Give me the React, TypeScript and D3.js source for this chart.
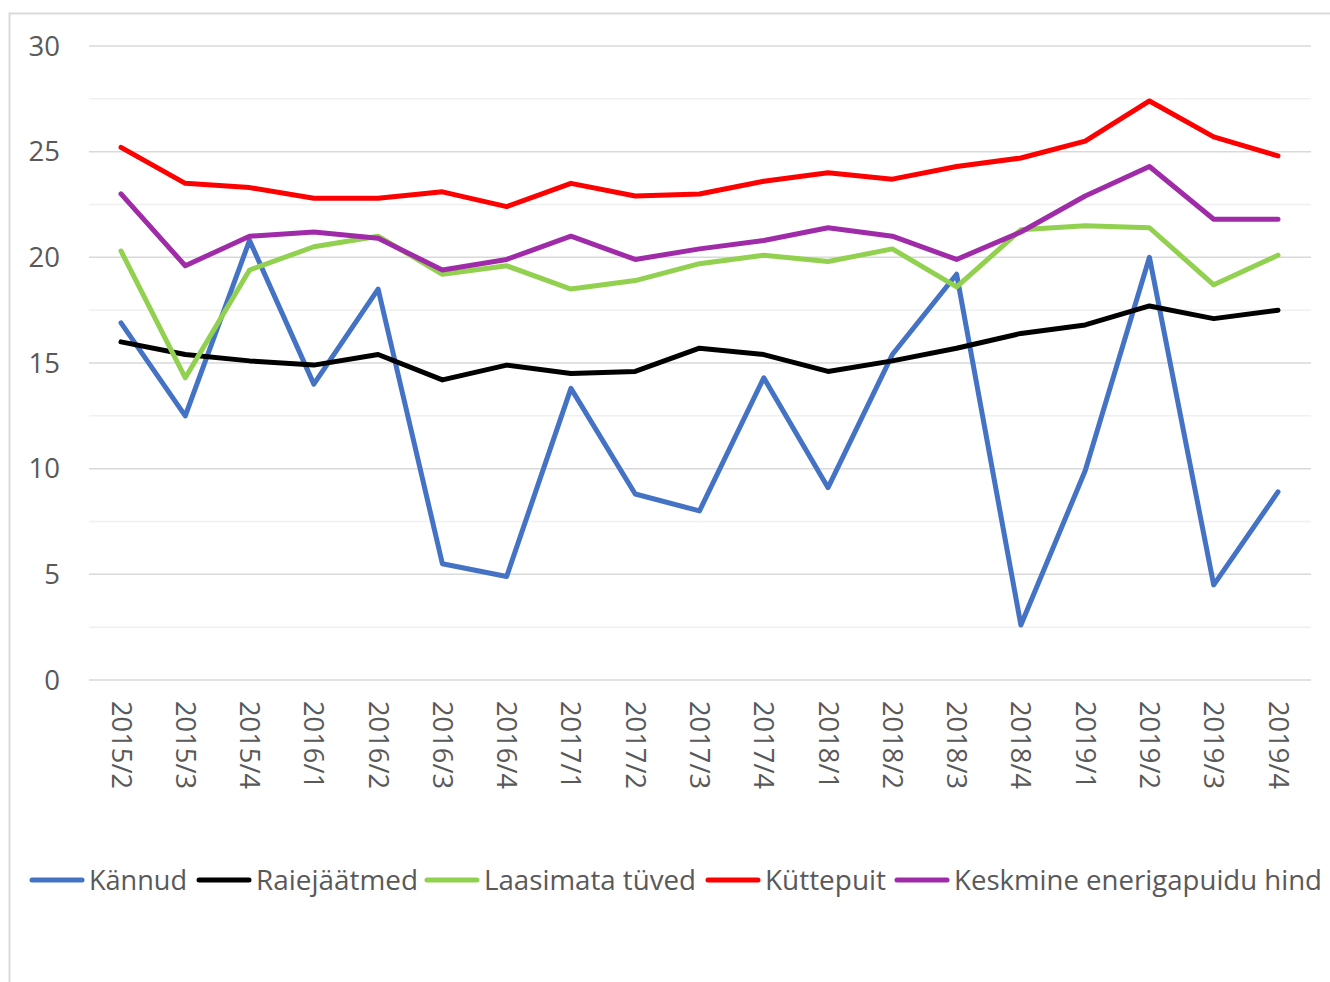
import { useEffect, useRef } from 'react'
import * as d3 from 'd3'

const quarters = [
	'2015/2', '2015/3', '2015/4', '2016/1', '2016/2', '2016/3', '2016/4',
	'2017/1', '2017/2', '2017/3', '2017/4', '2018/1', '2018/2', '2018/3',
	'2018/4', '2019/1', '2019/2', '2019/3', '2019/4',
]

const kannud = [16.9, 12.5, 20.8, 14.0, 18.5, 5.5, 4.9, 13.8, 8.8, 8.0, 14.3, 9.1, 15.4, 19.2, 2.6, 9.9, 20.0, 4.5, 8.9]
const raiejaatmed = [16.0, 15.4, 15.1, 14.9, 15.4, 14.2, 14.9, 14.5, 14.6, 15.7, 15.4, 14.6, 15.1, 15.7, 16.4, 16.8, 17.7, 17.1, 17.5]
const laasimata = [20.3, 14.3, 19.4, 20.5, 21.0, 19.2, 19.6, 18.5, 18.9, 19.7, 20.1, 19.8, 20.4, 18.6, 21.3, 21.5, 21.4, 18.7, 20.1]
const kuttepuit = [25.2, 23.5, 23.3, 22.8, 22.8, 23.1, 22.4, 23.5, 22.9, 23.0, 23.6, 24.0, 23.7, 24.3, 24.7, 25.5, 27.4, 25.7, 24.8]
const keskmine = [23.0, 19.6, 21.0, 21.2, 20.9, 19.4, 19.9, 21.0, 19.9, 20.4, 20.8, 21.4, 21.0, 19.9, 21.2, 22.9, 24.3, 21.8, 21.8]

const seriesNames = ['Kännud', 'Raiejäätmed', 'Laasimata tüved', 'Küttepuit', 'Keskmine enerigapuidu hind']
const seriesValues = [kannud, raiejaatmed, laasimata, kuttepuit, keskmine]
const seriesColors = ['#4472C4', '#000000', '#92D050', '#FF0000', '#A02BA8']

const yTicks = [0, 5, 10, 15, 20, 25, 30]

const FONT = "'Open Sans', 'Noto Sans', sans-serif"
const TEXT = '#595959'

const App = () => {
	const svgRef = useRef(null)

	useEffect(() => {
		const svg = d3.select(svgRef.current)
		svg.selectAll('*').remove()

		const x = d3.scalePoint().domain(quarters).range([121, 1278])
		const y = d3.scaleLinear().domain([0, 30]).range([680, 46])

		// outer frame (only top and left edges are visible in the crop)
		svg.append('path')
			.attr('d', 'M9.5,982 V13.5 H1330')
			.attr('fill', 'none')
			.attr('stroke', '#d9d9d9')
			.attr('stroke-width', 2)

		// minor gridlines
		const minor = d3.range(2.5, 30, 5)
		svg.append('g')
			.selectAll('line')
			.data(minor)
			.enter()
			.append('line')
			.attr('x1', 89)
			.attr('x2', 1311)
			.attr('y1', (d) => y(d))
			.attr('y2', (d) => y(d))
			.attr('stroke', '#f0f0f0')
			.attr('stroke-width', 1.5)

		// major gridlines
		svg.append('g')
			.selectAll('line')
			.data(yTicks)
			.enter()
			.append('line')
			.attr('x1', 89)
			.attr('x2', 1311)
			.attr('y1', (d) => y(d))
			.attr('y2', (d) => y(d))
			.attr('stroke', '#d9d9d9')
			.attr('stroke-width', 1.5)

		// y labels
		svg.append('g')
			.selectAll('text')
			.data(yTicks)
			.enter()
			.append('text')
			.attr('x', 60)
			.attr('y', (d) => y(d))
			.attr('dy', '0.35em')
			.attr('text-anchor', 'end')
			.style('font-family', FONT)
			.style('font-size', '27.5px')
			.style('fill', TEXT)
			.text((d) => d)

		// x labels, rotated
		svg.append('g')
			.selectAll('text')
			.data(quarters)
			.enter()
			.append('text')
			.attr('transform', (d) => `translate(${x(d)},701) rotate(90)`)
			.attr('dy', '0.35em')
			.attr('text-anchor', 'start')
			.attr('textLength', 88)
			.attr('lengthAdjust', 'spacingAndGlyphs')
			.style('font-family', FONT)
			.style('font-size', '27px')
			.style('fill', TEXT)
			.text((d) => d)

		const line = d3.line()
			.x((d, i) => x(quarters[i]))
			.y((d) => y(d))

		seriesValues.forEach((vals, k) => {
			svg.append('path')
				.datum(vals)
				.attr('d', line)
				.attr('fill', 'none')
				.attr('stroke', seriesColors[k])
				.attr('stroke-width', 5)
				.attr('stroke-linejoin', 'round')
				.attr('stroke-linecap', 'round')
		})

		// legend
		const legendX = [30, 197, 425, 706, 895]
		const legendW = [98, 162, 212, 121, 368]
		const legend = svg.append('g')
		seriesNames.forEach((name, k) => {
			const g = legend.append('g').attr('transform', `translate(${legendX[k]},880)`)
			g.append('line')
				.attr('x1', 2)
				.attr('x2', 52)
				.attr('stroke', seriesColors[k])
				.attr('stroke-width', 5)
				.attr('stroke-linecap', 'round')
			g.append('text')
				.attr('x', 59)
				.attr('dy', '0.35em')
				.attr('textLength', legendW[k])
				.attr('lengthAdjust', 'spacingAndGlyphs')
				.style('font-family', FONT)
				.style('font-size', '27.5px')
				.style('fill', TEXT)
				.text(name)
		})
	}, [])

	return (
		<svg
			ref={svgRef}
			width={1330}
			height={982}
			style={{ position: 'absolute', left: 0, top: 0, background: '#fff' }}
		></svg>
	)
}

export default App
